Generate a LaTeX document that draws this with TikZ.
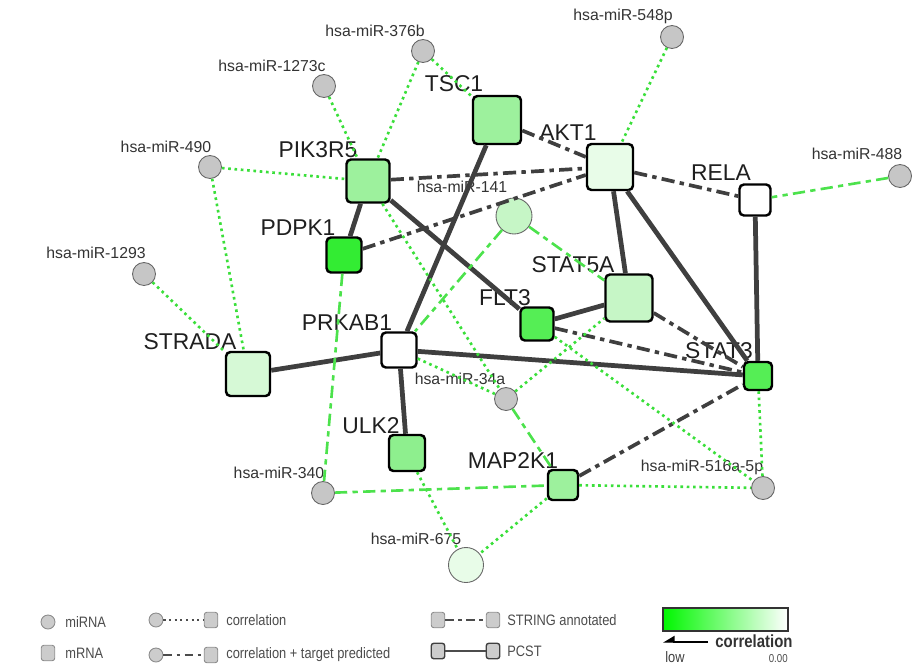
\documentclass[tikz,border=0pt]{standalone}
\usepackage{fontspec}
\setmainfont{Liberation Sans}
\newfontfamily\legfont[FakeStretch=0.85]{Liberation Sans}
\usetikzlibrary{arrows.meta,positioning,shapes.geometric,calc}

\definecolor{mirgray}{HTML}{C6C6C6}
\definecolor{edgegray}{HTML}{3F3F3F}
\definecolor{corrgreen}{HTML}{3ADF3A}
\definecolor{tpgreen}{HTML}{4CE24C}
\definecolor{gA}{HTML}{33EC33}
\definecolor{gB}{HTML}{55EE55}
\definecolor{gC}{HTML}{8EEF8E}
\definecolor{gD}{HTML}{9DF19D}
\definecolor{gE}{HTML}{C6F6C6}
\definecolor{gF}{HTML}{D6F9D6}
\definecolor{gG}{HTML}{E8FCE8}

\begin{document}
\begin{tikzpicture}[
  x=0.02cm,y=-0.02cm,
  gene/.style={draw=black, line width=1.4pt, rounded corners=2.5pt, inner sep=0pt, minimum size=#1},
  mir/.style={circle, draw=black!60, line width=0.5pt, fill=mirgray, inner sep=0pt, minimum size=#1},
  mir/.default=0.46cm,
  glabel/.style={font=\fontsize{13}{15}\selectfont, text=black!88, inner sep=0pt},
  mlabel/.style={font=\fontsize{9}{11}\selectfont, text=black!80, inner sep=0pt},
  pcst/.style={line width=2.7pt, draw=edgegray},
  strline/.style={line width=2.1pt, draw=edgegray, dash pattern=on 7.5pt off 3pt on 2.5pt off 3pt},
  corr/.style={line width=1.5pt, draw=corrgreen, dash pattern=on 1.5pt off 2.1pt},
  corrtp/.style={line width=1.5pt, draw=tpgreen, dash pattern=on 7pt off 3pt on 3pt off 3pt},
  legtext/.style={font=\legfont\fontsize{8.6}{10}\selectfont, text=black!70, inner sep=0pt, anchor=west},
  legmir/.style={circle, draw=black!45, line width=0.5pt, fill=black!20, inner sep=0pt, minimum size=0.28cm},
  legmrna/.style={draw=black!45, line width=0.5pt, fill=black!20, rounded corners=1.5pt, inner sep=0pt, minimum width=0.27cm, minimum height=0.31cm},
  legline/.style={line width=1.2pt, draw=black!70}
]
\useasboundingbox (0,0) rectangle (912,666);

% miRNAs
\node[mir] (m376b) at (423,51) {};
\node[mir] (m1273c) at (324,86) {};
\node[mir] (m490) at (210,167) {};
\node[mir] (m1293) at (144,274) {};
\node[mir] (m548p) at (672,37) {};
\node[mir] (m488) at (900,176) {};
\node[mir=0.72cm, fill=gE] (m141) at (514,216) {};
\node[mir] (m34a) at (506,399) {};
\node[mir] (m516) at (763,488) {};
\node[mir] (m340) at (323,493) {};
\node[mir=0.70cm, fill=gG] (m675) at (466,565) {};

\node[mlabel] (m376b-l) at (375,31) {hsa-miR-376b};
\node[mlabel] (m1273c-l) at (272,66) {hsa-miR-1273c};
\node[mlabel] (m490-l) at (166,147) {hsa-miR-490};
\node[mlabel] (m1293-l) at (96,253) {hsa-miR-1293};
\node[mlabel] (m548p-l) at (623,16) {hsa-miR-548p};
\node[mlabel] (m488-l) at (857,154) {hsa-miR-488};
\node[mlabel] (m141-l) at (462,187) {hsa-miR-141};
\node[mlabel] (m34a-l) at (460,379) {hsa-miR-34a};
\node[mlabel] (m516-l) at (702,467) {hsa-miR-516a-5p};
\node[mlabel] (m340-l) at (279,473) {hsa-miR-340};
\node[mlabel] (m675-l) at (416,539) {hsa-miR-675};

% mRNAs
\node[gene=0.86cm, fill=gD] (pik3r5) at (368,181) {};
\node[gene=0.70cm, fill=gA] (pdpk1) at (344,255) {};
\node[gene=0.96cm, fill=gD] (tsc1) at (497,120) {};
\node[gene=0.92cm, fill=gG] (akt1) at (610,167) {};
\node[gene=0.62cm, fill=white] (rela) at (755,200) {};
\node[gene=0.94cm, fill=gE] (stat5a) at (629,298) {};
\node[gene=0.66cm, fill=gB] (flt3) at (537,324) {};
\node[gene=0.56cm, fill=gB] (stat3) at (758,376) {};
\node[gene=0.70cm, fill=white] (prkab1) at (399,350) {};
\node[gene=0.88cm, fill=gF] (strada) at (248,374) {};
\node[gene=0.72cm, fill=gC] (ulk2) at (407,453) {};
\node[gene=0.60cm, fill=gD] (map2k1) at (563,485) {};

\node[glabel] (pik3r5-l) at (318,150) {PIK3R5};
\node[glabel] (pdpk1-l) at (298,228) {PDPK1};
\node[glabel] (tsc1-l) at (454,84) {TSC1};
\node[glabel] (akt1-l) at (568,133) {AKT1};
\node[glabel] (rela-l) at (721,173) {RELA};
\node[glabel] (stat5a-l) at (573,265) {STAT5A};
\node[glabel] (flt3-l) at (505,298) {FLT3};
\node[glabel] (stat3-l) at (719,351) {STAT3};
\node[glabel] (prkab1-l) at (347,323) {PRKAB1};
\node[glabel] (strada-l) at (190,342) {STRADA};
\node[glabel] (ulk2-l) at (371,426) {ULK2};
\node[glabel] (map2k1-l) at (513,461) {MAP2K1};

% PCST
\draw[pcst] (tsc1) -- (prkab1);
\draw[pcst] (pik3r5) -- (pdpk1);
\draw[pcst] (pik3r5) -- (flt3);
\draw[pcst] (flt3) -- (stat5a);
\draw[pcst] (akt1) -- (stat5a);
\draw[pcst] (akt1) -- (stat3);
\draw[pcst] (rela) -- (stat3);
\draw[pcst] (prkab1) -- (strada);
\draw[pcst] (prkab1) -- (stat3);
\draw[pcst] (prkab1) -- (ulk2);

% STRING annotated
\draw[strline] (tsc1) -- (akt1);
\draw[strline] (pik3r5) -- (akt1);
\draw[strline] (pdpk1) -- (akt1);
\draw[strline] (akt1) -- (rela);
\draw[strline] (stat5a) -- (stat3);
\draw[strline] (flt3) -- (stat3);
\draw[strline] (map2k1) -- (stat3);

% correlation
\draw[corr] (m376b) -- (pik3r5);
\draw[corr] (m376b) -- (tsc1);
\draw[corr] (m1273c) -- (pik3r5);
\draw[corr] (m490) -- (pik3r5);
\draw[corr] (m490) -- (strada);
\draw[corr] (m1293) -- (strada);
\draw[corr] (m548p) -- (akt1);
\draw[corr] (pik3r5) -- (m34a);
\draw[corr] (prkab1) -- (m34a);
\draw[corr] (m34a) -- (stat5a);
\draw[corr] (flt3) -- (m516);
\draw[corr] (stat3) -- (m516);
\draw[corr] (map2k1) -- (m516);
\draw[corr] (map2k1) -- (m675);
\draw[corr] (ulk2) -- (m675);

% correlation + target predicted
\draw[corrtp] (m488) -- (rela);
\draw[corrtp] (m141) -- (prkab1);
\draw[corrtp] (m141) -- (stat5a);
\draw[corrtp] (pdpk1) -- (m340);
\draw[corrtp] (m340) -- (map2k1);
\draw[corrtp] (m34a) -- (map2k1);

% legend
\node[legmir] (leg-mir) at (48,622) {};
\node[legtext] (leg-mir-t) at (65,622) {miRNA};
\node[legmrna] (leg-mrna) at (48,653) {};
\node[legtext] (leg-mrna-t) at (65,653) {mRNA};

\node[legmir] (leg-c1) at (156,620) {};
\node[legmrna] (leg-c2) at (211,620) {};
\draw[legline, line width=1.1pt, dash pattern=on 1.2pt off 2pt] (leg-c1) -- (leg-c2);
\node[legtext] (leg-c-t) at (226,620) {correlation};

\node[legmir] (leg-t1) at (156,655) {};
\node[legmrna] (leg-t2) at (211,655) {};
\draw[legline, dash pattern=on 5pt off 2.5pt on 2pt off 2.5pt] (leg-t1) -- (leg-t2);
\node[legtext] (leg-t-t) at (226,655) {correlation + target predicted};

\node[legmrna] (leg-s1) at (438,620) {};
\node[legmrna] (leg-s2) at (493,620) {};
\draw[legline, line width=1.6pt, dash pattern=on 5pt off 2.5pt on 2pt off 2.5pt] (leg-s1) -- (leg-s2);
\node[legtext] (leg-s-t) at (507,620) {STRING annotated};

\node[legmrna, draw=black!75, line width=0.8pt] (leg-p1) at (438,651) {};
\node[legmrna, draw=black!75, line width=0.8pt] (leg-p2) at (493,651) {};
\draw[legline] (leg-p1) -- (leg-p2);
\node[legtext] (leg-p-t) at (507,651) {PCST};

\node[draw=black!80, line width=0.6pt, left color=green!85!black!20!green, right color=white, minimum width=2.5cm, minimum height=0.46cm, inner sep=0pt] (grad) at (725.5,619.5) {};
\coordinate (arr-s) at (708,642);
\coordinate (arr-e) at (663,642);
\draw[line width=0.7pt, -{Triangle[right, length=6pt, width=7pt]}] (arr-s) -- (arr-e);
\node[legtext, font=\legfont\fontsize{10}{12}\selectfont\bfseries, text=black!80] (corr-t) at (715,641) {correlation};
\node[legtext, text=black!75] (low-t) at (665,657) {low};
\node[legtext, font=\legfont\fontsize{6.5}{8}\selectfont, anchor=east] (zero-t) at (788,659) {0.00};
\end{tikzpicture}
\end{document}
